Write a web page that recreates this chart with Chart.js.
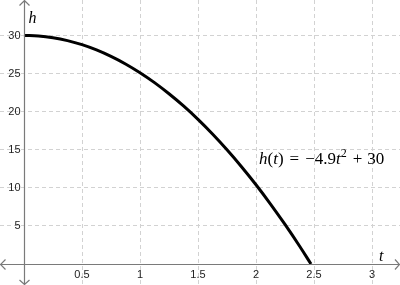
<!DOCTYPE html>
<html>
<head>
<meta charset="utf-8">
<script src="https://cdn.jsdelivr.net/npm/chart.js@4/dist/chart.umd.min.js"></script>
<style>
  html, body { margin: 0; padding: 0; background: #fff; }
  canvas { display: block; }
</style>
</head>
<body>
<canvas id="fall" width="400" height="285"></canvas>
<script>
// values
const tValues = [0, 0.125, 0.25, 0.375, 0.5, 0.625, 0.75, 0.875, 1, 1.125, 1.25, 1.375,
                 1.5, 1.625, 1.75, 1.875, 2, 2.125, 2.25, 2.375, 2.474];
const hValues = [30, 29.92, 29.69, 29.31, 28.78, 28.09, 27.24, 26.25, 25.1, 23.8, 22.34, 20.74,
                 18.98, 17.06, 14.99, 12.77, 10.4, 7.87, 5.19, 2.36, 0];
const xTicks = [0.5, 1, 1.5, 2, 2.5, 3];
const yTicks = [5, 10, 15, 20, 25, 30];

const axisColor = '#7a7a7a';
const gridColor = '#d2d2d2';
const labelFont = '11px "Liberation Sans", Arial, sans-serif';
const serif = '"Liberation Serif", "DejaVu Serif", serif';

// axes through the origin, arrows, tick labels, formula
const axesPlugin = {
  id: 'axesThroughOrigin',
  afterDatasetsDraw(chart) {
    const ctx = chart.ctx;
    const xs = chart.scales.x, ys = chart.scales.y;
    const x0 = Math.round(xs.getPixelForValue(0)) + 0.5;
    const y0 = Math.round(ys.getPixelForValue(0)) + 0.5;
    const W = chart.width, H = chart.height;
    ctx.save();
    ctx.strokeStyle = axisColor;
    ctx.lineWidth = 1.2;
    ctx.beginPath();
    ctx.moveTo(0, y0); ctx.lineTo(W, y0);
    ctx.moveTo(x0, 0); ctx.lineTo(x0, H);
    // arrow heads
    const a = 5;
    ctx.moveTo(W - a, y0 - a); ctx.lineTo(W - 0.5, y0); ctx.lineTo(W - a, y0 + a);
    ctx.moveTo(a + 0.5, y0 - a); ctx.lineTo(0.5, y0); ctx.lineTo(a + 0.5, y0 + a);
    ctx.moveTo(x0 - a, a + 0.5); ctx.lineTo(x0, 0.5); ctx.lineTo(x0 + a, a + 0.5);
    ctx.moveTo(x0 - a, H - a); ctx.lineTo(x0, H - 0.5); ctx.lineTo(x0 + a, H - a);
    ctx.stroke();

    ctx.fillStyle = '#222';
    ctx.font = labelFont;
    ctx.textAlign = 'center';
    ctx.textBaseline = 'top';
    xs.ticks.forEach(t => {
      ctx.fillText(String(t.value), xs.getPixelForValue(t.value), y0 + 5);
    });
    ctx.textAlign = 'right';
    ctx.textBaseline = 'middle';
    ys.ticks.forEach(t => {
      ctx.fillText(String(t.value), x0 - 4, ys.getPixelForValue(t.value) + 0.5);
    });

    // axis names
    ctx.fillStyle = '#000';
    ctx.textAlign = 'left';
    ctx.textBaseline = 'alphabetic';
    ctx.font = 'italic 16px ' + serif;
    ctx.fillText('h', x0 + 4, 23);
    ctx.fillText('t', 379, y0 - 4);

    // formula h(t) = −4.9t² + 30   [text, italic, superscript, gap after]
    const parts = [
      ['h', true, false, 0], ['(', false, false, 0], ['t', true, false, 0], [')', false, false, 6],
      ['=', false, false, 6], ['\u22124.9', false, false, 0], ['t', true, false, 0],
      ['2', false, true, 5], ['+', false, false, 5], ['30', false, false, 0]
    ];
    let px = 259;
    const base = 164;
    parts.forEach(([txt, it, sup, gap]) => {
      ctx.font = (it ? 'italic ' : '') + (sup ? '12px ' : '17px ') + serif;
      ctx.fillText(txt, px, sup ? base - 7 : base);
      px += ctx.measureText(txt).width + (sup ? 1 : 0) + gap;
    });
    ctx.restore();
  }
};

new Chart(document.getElementById('fall'), {
  type: 'scatter',
  data: {
    datasets: [{
      data: tValues.map((t, i) => ({ x: t, y: hValues[i] })),
      showLine: true,
      borderColor: '#000',
      borderWidth: 3,
      pointRadius: 0,
      tension: 0.4,
      fill: false
    }]
  },
  options: {
    responsive: false,
    devicePixelRatio: 1,
    animation: false,
    layout: { padding: 0 },
    plugins: { legend: { display: false }, tooltip: { enabled: false } },
    scales: {
      x: {
        type: 'linear',
        min: -24 / 116,
        max: 376 / 116,
        afterBuildTicks: s => { s.ticks = xTicks.map(v => ({ value: v })); },
        ticks: { display: false },
        grid: { color: gridColor, drawTicks: false, lineWidth: 1 },
        border: { display: false, dash: [4, 3] }
      },
      y: {
        type: 'linear',
        min: -21 / 7.62,
        max: 264 / 7.62,
        afterBuildTicks: s => { s.ticks = yTicks.map(v => ({ value: v })); },
        ticks: { display: false },
        grid: { color: gridColor, drawTicks: false, lineWidth: 1 },
        border: { display: false, dash: [4, 3] }
      }
    }
  },
  plugins: [axesPlugin]
});
</script>
</body>
</html>
